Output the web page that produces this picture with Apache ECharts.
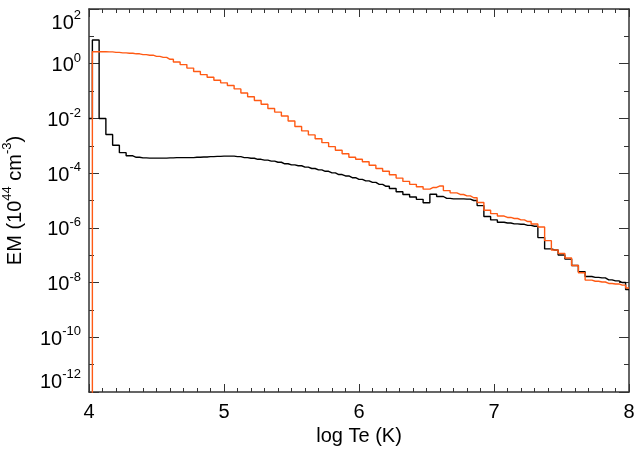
<!DOCTYPE html>
<html><head><meta charset="utf-8">
<script src="https://cdn.jsdelivr.net/npm/echarts@6/dist/echarts.min.js"></script>
<style>html,body{margin:0;padding:0;background:#fff}#c{width:636px;height:453px}</style>
</head><body><div id="c"></div>
<script>
// log Te (K) sample points (bin centres, histogram style)
const logTe = [4.00,4.05,4.10,4.15,4.20,4.25,4.30,4.35,4.40,4.45,4.50,4.55,4.60,4.65,4.70,4.75,4.80,4.85,4.90,4.95,
  5.00,5.05,5.10,5.15,5.20,5.25,5.30,5.35,5.40,5.45,5.50,5.55,5.60,5.65,5.70,5.75,5.80,5.85,5.90,5.95,
  6.00,6.05,6.10,6.15,6.20,6.25,6.30,6.35,6.40,6.45,6.50,6.55,6.60,6.65,6.70,6.75,6.80,6.85,6.90,6.95,
  7.00,7.05,7.10,7.15,7.20,7.25,7.30,7.35,7.40,7.45,7.50,7.55,7.60,7.65,7.70,7.75,7.80,7.85,7.90,7.95,8.00];
// EM (1e44 cm^-3), black curve
const emBlack = [1.0e-2,7.4,1.0e-2,2.6e-3,1.05e-3,5.6e-4,4.3e-4,3.8e-4,3.6e-4,3.55e-4,3.55e-4,3.55e-4,3.6e-4,3.7e-4,3.7e-4,3.7e-4,3.8e-4,3.9e-4,4.0e-4,4.1e-4,
  4.2e-4,4.2e-4,4.0e-4,3.7e-4,3.5e-4,3.2e-4,3.0e-4,2.75e-4,2.5e-4,2.2e-4,2.0e-4,1.86e-4,1.66e-4,1.48e-4,1.32e-4,1.17e-4,1.02e-4,8.9e-5,7.9e-5,6.8e-5,
  5.9e-5,5.2e-5,4.6e-5,3.9e-5,3.3e-5,2.75e-5,2.1e-5,1.66e-5,1.35e-5,1.1e-5,8.3e-6,1.7e-5,1.4e-5,1.2e-5,1.15e-5,1.15e-5,1.12e-5,1.0e-5,6.5e-6,2.6e-6,
  1.95e-6,1.6e-6,1.5e-6,1.4e-6,1.35e-6,1.23e-6,1.15e-6,4.4e-7,1.7e-7,1.55e-7,1.02e-7,7.2e-8,4.2e-8,2.5e-8,1.66e-8,1.55e-8,1.48e-8,1.26e-8,1.15e-8,1.0e-8,5.6e-9];
// EM (1e44 cm^-3), orange curve
const emOrange = [1.0e-14,2.75,2.75,2.7,2.6,2.5,2.4,2.3,2.15,2.05,1.86,1.7,1.45,1.15,0.93,0.69,0.52,0.40,0.32,0.25,
  0.20,0.16,0.12,8.5e-2,6.2e-2,4.5e-2,3.3e-2,2.3e-2,1.7e-2,1.23e-2,8.1e-3,5.1e-3,3.5e-3,2.5e-3,1.8e-3,1.3e-3,9.3e-4,6.9e-4,5.1e-4,3.8e-4,
  3.2e-4,2.6e-4,1.95e-4,1.48e-4,1.17e-4,8.7e-5,6.6e-5,5.0e-5,3.9e-5,3.2e-5,2.6e-5,3.0e-5,3.4e-5,2.3e-5,1.9e-5,1.66e-5,1.48e-5,1.26e-5,8.5e-6,4.4e-6,
  3.3e-6,2.7e-6,2.4e-6,2.2e-6,1.95e-6,1.7e-6,1.38e-6,1.07e-6,3.4e-7,1.55e-7,1.15e-7,7.9e-8,4.2e-8,2.3e-8,1.23e-8,1.12e-8,1.05e-8,9.3e-9,8.9e-9,8.1e-9,6.3e-9];
// axis settings
const xTicks = [4,5,6,7,8];
const yExpMin = -12, yExpMax = 2;

const FONT = '"Liberation Sans", Arial, Helvetica, sans-serif';
function pairs(vals){ return logTe.map((t,i)=>[t, Math.log10(vals[i])]); }
const axisCol = '#333';
const yRich = {
  b:{fontSize:20,fontFamily:FONT,color:'#000',lineHeight:24,verticalAlign:'bottom'},
  s:{fontSize:13,fontFamily:FONT,color:'#000',lineHeight:13,verticalAlign:'top'}
};
const chart = echarts.init(document.getElementById('c'), null, {renderer:'canvas'});
chart.setOption({
  animation:false,
  backgroundColor:'#fff',
  grid:{left:89,right:7,top:9,bottom:61,containLabel:false,outerBoundsMode:'none'},
  xAxis:[{
    type:'value',min:xTicks[0],max:xTicks[xTicks.length-1],interval:1,position:'bottom',
    axisLine:{show:true,onZero:false,lineStyle:{color:axisCol,width:1.5}},
    axisTick:{show:true,inside:true,length:8,lineStyle:{color:axisCol,width:1}},
    minorTick:{show:true,splitNumber:10,length:4,lineStyle:{color:axisCol,width:1}},
    splitLine:{show:false},
    axisLabel:{margin:10,fontSize:20,fontFamily:FONT,color:'#000'},
    name:'log Te (K)',nameLocation:'middle',nameGap:34,
    nameTextStyle:{fontSize:20,fontFamily:FONT,color:'#000'}
  },{
    type:'value',min:xTicks[0],max:xTicks[xTicks.length-1],interval:1,position:'top',
    axisLine:{show:true,onZero:false,lineStyle:{color:axisCol,width:1.5}},
    axisTick:{show:true,inside:true,length:8,lineStyle:{color:axisCol,width:1}},
    minorTick:{show:true,splitNumber:10,length:4,lineStyle:{color:axisCol,width:1}},
    splitLine:{show:false},axisLabel:{show:false}
  }],
  yAxis:[{
    type:'value',min:yExpMin,max:yExpMax,interval:2,position:'left',
    axisLine:{show:true,onZero:false,lineStyle:{color:axisCol,width:1.5}},
    axisTick:{show:true,inside:true,length:10,lineStyle:{color:axisCol,width:1}},
    minorTick:{show:true,splitNumber:2,length:5,lineStyle:{color:axisCol,width:1}},
    splitLine:{show:false},
    axisLabel:{margin:8,formatter:v=>'{b|10}{s|'+Math.round(v)+'}',rich:yRich,
      verticalAlignMinLabel:'bottom',verticalAlignMaxLabel:'top'},
    name:'{a|EM (10}{s|44}{a| cm}{s|-3}{a|)}',nameLocation:'middle',nameGap:64,nameRotate:90,
    nameTextStyle:{rich:{
      a:{fontSize:20,fontFamily:FONT,color:'#000',lineHeight:24,verticalAlign:'bottom'},
      s:{fontSize:13,fontFamily:FONT,color:'#000',lineHeight:13,verticalAlign:'top'}}}
  },{
    type:'value',min:yExpMin,max:yExpMax,interval:2,position:'right',
    axisLine:{show:true,onZero:false,lineStyle:{color:axisCol,width:1.5}},
    axisTick:{show:true,inside:true,length:10,lineStyle:{color:axisCol,width:1}},
    minorTick:{show:true,splitNumber:2,length:5,lineStyle:{color:axisCol,width:1}},
    splitLine:{show:false},axisLabel:{show:false}
  }],
  series:[
    {type:'line',name:'black',data:pairs(emBlack),step:'middle',showSymbol:false,symbol:'none',
     xAxisIndex:0,yAxisIndex:0,clip:true,lineStyle:{color:'#000',width:1.4},z:2},
    {type:'line',name:'orange',data:pairs(emOrange),step:'middle',showSymbol:false,symbol:'none',
     xAxisIndex:0,yAxisIndex:0,clip:true,lineStyle:{color:'#ff5a14',width:1.4},z:3}
  ]
});
</script></body></html>
